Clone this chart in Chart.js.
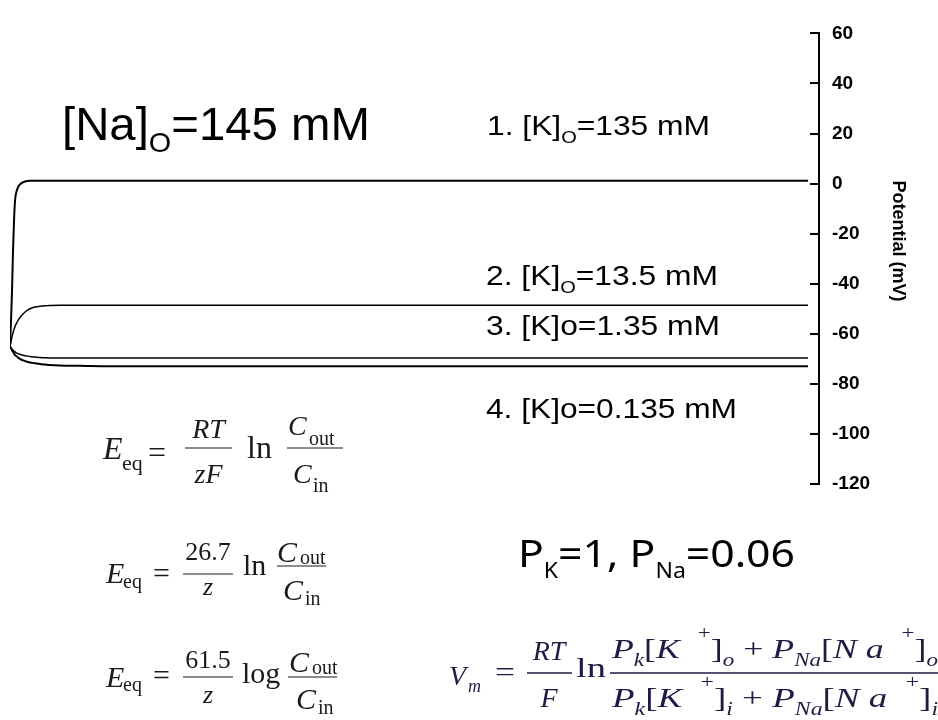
<!DOCTYPE html>
<html>
<head>
<meta charset="utf-8">
<title>Membrane potential vs [K]o</title>
<script src="https://cdn.jsdelivr.net/npm/chart.js@4.4.1/dist/chart.umd.min.js"></script>
<style>
  html, body { margin: 0; padding: 0; background: #fff; }
  #wrap { position: relative; width: 938px; height: 720px; }
</style>
</head>
<body>
<div id="wrap"><canvas id="vmChart"></canvas></div>
<script>
"use strict";

// время (условные единицы, общий ряд для всех кривых)
const timeMs = [0, 1, 2, 3, 4, 5, 6, 8, 10, 13, 16, 20, 25, 30, 35, 40, 50, 60, 70, 80, 100, 798];

// потенциал (мВ) для четырёх значений [K]o
const vK135   = [-65.0, -55.0, -43.0, -27.0, -15.0, -7.0, -4.0, -1.5, -0.3, 0.5, 0.9, 1.1, 1.15, 1.15, 1.15, 1.15, 1.15, 1.15, 1.15, 1.15, 1.15, 1.15];
const vK13_5  = [-65.0, -63.1, -61.2, -59.6, -58.3, -57.1, -56.2, -54.6, -53.5, -52.1, -51.0, -50.0, -49.3, -49.0, -48.8, -48.7, -48.6, -48.6, -48.6, -48.6, -48.6, -48.6];
const vK1_35  = [-65.0, -65.6, -66.1, -66.5, -66.9, -67.2, -67.5, -67.9, -68.2, -68.6, -68.8, -69.1, -69.3, -69.5, -69.6, -69.65, -69.7, -69.7, -69.7, -69.7, -69.7, -69.7];
const vK0_135 = [-65.0, -65.8, -66.5, -67.2, -67.8, -68.5, -68.8, -69.5, -70.0, -70.6, -71.0, -71.5, -71.8, -72.1, -72.3, -72.5, -72.7, -72.8, -72.8, -72.9, -73.0, -73.0];

const seriesNames = ['[K]o=135 mM', '[K]o=13.5 mM', '[K]o=1.35 mM', '[K]o=0.135 mM'];
const seriesValues = [vK135, vK13_5, vK1_35, vK0_135];
const seriesWidths = [2, 1.5, 1.5, 2];

// деления оси
const yMin = -120, yMax = 60, yStep = 20;
const yTitle = 'Potential (mV)';

const SANS = 'Liberation Sans';
const SERIF = 'Liberation Serif';

// ---- вспомогательные функции для подписей ----
function runWidth(ctx, parts) {
    let w = 0;
    for (const p of parts) {
        ctx.font = p[1];
        w += ctx.measureText(p[0]).width;
    }
    return w;
}

// рисует строку из частей [текст, шрифт, сдвиг по y], растягивая до нужной ширины
function drawRun(ctx, x, y, parts, width, color) {
    const sx = width ? width / runWidth(ctx, parts) : 1;
    ctx.save();
    ctx.translate(x, y);
    ctx.scale(sx, 1);
    ctx.fillStyle = color || '#000';
    ctx.textBaseline = 'alphabetic';
    ctx.textAlign = 'left';
    let cx = 0;
    for (const p of parts) {
        ctx.font = p[1];
        ctx.fillText(p[0], cx, p[2] || 0);
        cx += ctx.measureText(p[0]).width;
    }
    ctx.restore();
}

function drawCentered(ctx, text, cx, y, font, color) {
    ctx.save();
    ctx.font = font;
    ctx.fillStyle = color || '#000';
    ctx.textAlign = 'center';
    ctx.textBaseline = 'alphabetic';
    ctx.fillText(text, cx, y);
    ctx.restore();
}

function drawBar(ctx, x1, x2, y, w, color) {
    ctx.save();
    ctx.strokeStyle = color || '#000';
    ctx.lineWidth = w || 1.2;
    ctx.beginPath();
    ctx.moveTo(x1, y);
    ctx.lineTo(x2, y);
    ctx.stroke();
    ctx.restore();
}

// "=" ставится по центру знака
function drawEq(ctx, x, centerY, size, color) {
    drawRun(ctx, x, centerY + size * 0.26, [['=', size + 'px ' + SERIF]], 0, color);
}

const annotations = {
    id: 'annotations',
    afterDraw(chart) {
        const ctx = chart.ctx;
        const sans = s => s + 'px ' + SANS;
        const ser = s => s + 'px ' + SERIF;
        const it = s => 'italic ' + s + 'px ' + SERIF;

        // подпись оси (повёрнута, читается сверху вниз)
        ctx.save();
        ctx.translate(898, 241);
        ctx.rotate(Math.PI / 2);
        ctx.font = 'bold 18px ' + SANS;
        ctx.fillStyle = '#000';
        ctx.textAlign = 'center';
        ctx.textBaseline = 'middle';
        ctx.fillText(yTitle, 0, 0);
        ctx.restore();

        // подписи концентраций
        drawRun(ctx, 62, 140, [['[Na]', sans(46)], ['O', sans(28), 12], ['=145 mM', sans(46)]], 308);
        drawRun(ctx, 487, 135, [['1. [K]', sans(27)], ['O', sans(17), 8], ['=135 mM', sans(27)]], 223);
        drawRun(ctx, 486, 285, [['2. [K]', sans(27)], ['O', sans(17), 8], ['=13.5 mM', sans(27)]], 232);
        drawRun(ctx, 486, 335, [['3. [K]o=1.35 mM', sans(27)]], 234);
        drawRun(ctx, 486, 418, [['4. [K]o=0.135 mM', sans(27)]], 251);

        // уравнение Нернста
        const ink = '#1a1a1a';
        drawRun(ctx, 103, 459, [['E', it(32)]], 0, ink);
        drawRun(ctx, 122, 470, [['eq', ser(22)]], 0, ink);
        drawEq(ctx, 148, 455, 32, ink);
        drawCentered(ctx, 'RT', 208.5, 438, it(28), ink);
        drawBar(ctx, 185, 232, 448, 1.2, ink);
        drawCentered(ctx, 'zF', 208.5, 483, it(28), ink);
        drawRun(ctx, 247, 458, [['ln', ser(32)]], 0, ink);
        drawRun(ctx, 288, 435, [['C', it(28)]], 0, ink);
        drawRun(ctx, 309, 445, [['out', ser(20)]], 0, ink);
        drawBar(ctx, 287, 343, 448, 1.2, ink);
        drawRun(ctx, 293, 483, [['C', it(28)]], 0, ink);
        drawRun(ctx, 313, 492, [['in', ser(20)]], 0, ink);

        drawRun(ctx, 106, 583, [['E', it(30)]], 0, ink);
        drawRun(ctx, 123, 588, [['eq', ser(20)]], 0, ink);
        drawEq(ctx, 153, 575, 30, ink);
        drawCentered(ctx, '26.7', 208, 560, ser(26), ink);
        drawBar(ctx, 183, 233, 574, 1.2, ink);
        drawCentered(ctx, 'z', 208, 595, it(26), ink);
        drawRun(ctx, 243, 575, [['ln', ser(30)]], 0, ink);
        drawRun(ctx, 277, 562, [['C', it(30)]], 0, ink);
        drawRun(ctx, 300, 564, [['out', ser(20)]], 0, ink);
        drawBar(ctx, 277, 326, 566, 1.2, ink);
        drawRun(ctx, 283, 600, [['C', it(30)]], 0, ink);
        drawRun(ctx, 305, 605, [['in', ser(20)]], 0, ink);

        drawRun(ctx, 106, 687, [['E', it(30)]], 0, ink);
        drawRun(ctx, 123, 691, [['eq', ser(20)]], 0, ink);
        drawEq(ctx, 153, 677, 30, ink);
        drawCentered(ctx, '61.5', 208, 668, ser(26), ink);
        drawBar(ctx, 183, 233, 677, 1.2, ink);
        drawCentered(ctx, 'z', 208, 703, it(26), ink);
        drawRun(ctx, 242, 683, [['log', ser(30)]], 0, ink);
        drawRun(ctx, 289, 672, [['C', it(30)]], 0, ink);
        drawRun(ctx, 312, 674, [['out', ser(20)]], 0, ink);
        drawBar(ctx, 288, 337, 677, 1.2, ink);
        drawRun(ctx, 296, 709, [['C', it(30)]], 0, ink);
        drawRun(ctx, 318, 714, [['in', ser(20)]], 0, ink);

        // проницаемости
        const ns = s => s + 'px "Noto Sans"';
        drawRun(ctx, 518, 567, [['P', ns(39)], ['K', ns(21), 11], ['=1, P', ns(39)], ['Na', ns(21), 11], ['=0.06', ns(39)]], 277);

        // уравнение Гольдмана
        const navy = '#1d1d44';
        drawRun(ctx, 449, 685, [['V', it(28)]], 0, navy);
        drawRun(ctx, 468, 692, [['m', it(18)]], 0, navy);
        drawRun(ctx, 495, 681, [['=', ser(28)]], 20, navy);
        drawCentered(ctx, 'RT', 549, 660, it(28), navy);
        drawBar(ctx, 527, 572, 673, 1.5, navy);
        drawCentered(ctx, 'F', 549, 707, it(28), navy);
        drawRun(ctx, 576, 677, [['ln', ser(28)]], 30, navy);
        const ghk = sub => [
            ['P', it(28)], ['k', it(18), 8], ['[', ser(28)], ['K', it(28)], ['  ', ser(28)],
            ['+', ser(18), -19], [']', ser(28)], [sub, it(18), 8], [' + ', ser(28)],
            ['P', it(28)], ['Na', it(18), 8], ['[', ser(28)], ['N a', it(28)], ['  ', ser(28)],
            ['+', ser(18), -19], [']', ser(28)], [sub, it(18), 8]
        ];
        drawRun(ctx, 612, 658, ghk('o'), 326, navy);
        drawBar(ctx, 610, 938, 673, 1.5, navy);
        drawRun(ctx, 612, 707, ghk('i'), 326, navy);
    }
};

const datasets = seriesValues.map((vals, i) => ({
    label: seriesNames[i],
    data: timeMs.map((t, j) => ({ x: t, y: vals[j] })),
    borderColor: '#000',
    borderWidth: seriesWidths[i],
    pointRadius: 0,
    fill: false,
    cubicInterpolationMode: 'monotone'
}));

const ctx = document.getElementById('vmChart').getContext('2d');
new Chart(ctx, {
    type: 'line',
    data: { datasets: datasets },
    options: {
        responsive: true,
        maintainAspectRatio: false,
        animation: false,
        events: [],
        layout: { padding: { top: 16, bottom: 236, left: 10, right: 0 } },
        plugins: {
            legend: { display: false },
            tooltip: { enabled: false }
        },
        scales: {
            x: { type: 'linear', display: false, min: 0, max: 809 },
            y: {
                type: 'linear',
                position: 'right',
                min: yMin,
                max: yMax,
                ticks: {
                    stepSize: yStep,
                    color: '#000',
                    padding: 22,
                    font: { family: SANS, size: 19, weight: 'bold' }
                },
                grid: {
                    drawOnChartArea: false,
                    drawTicks: true,
                    tickLength: -9,
                    color: '#000',
                    lineWidth: 2
                },
                border: { display: true, color: '#000', width: 2 },
                // подпись оси рисуется плагином, чтобы сдвинуть её как в оригинале
                title: { display: false, text: yTitle },
                afterFit(scale) { scale.width = 119; }
            }
        }
    },
    plugins: [annotations]
});
</script>
</body>
</html>
